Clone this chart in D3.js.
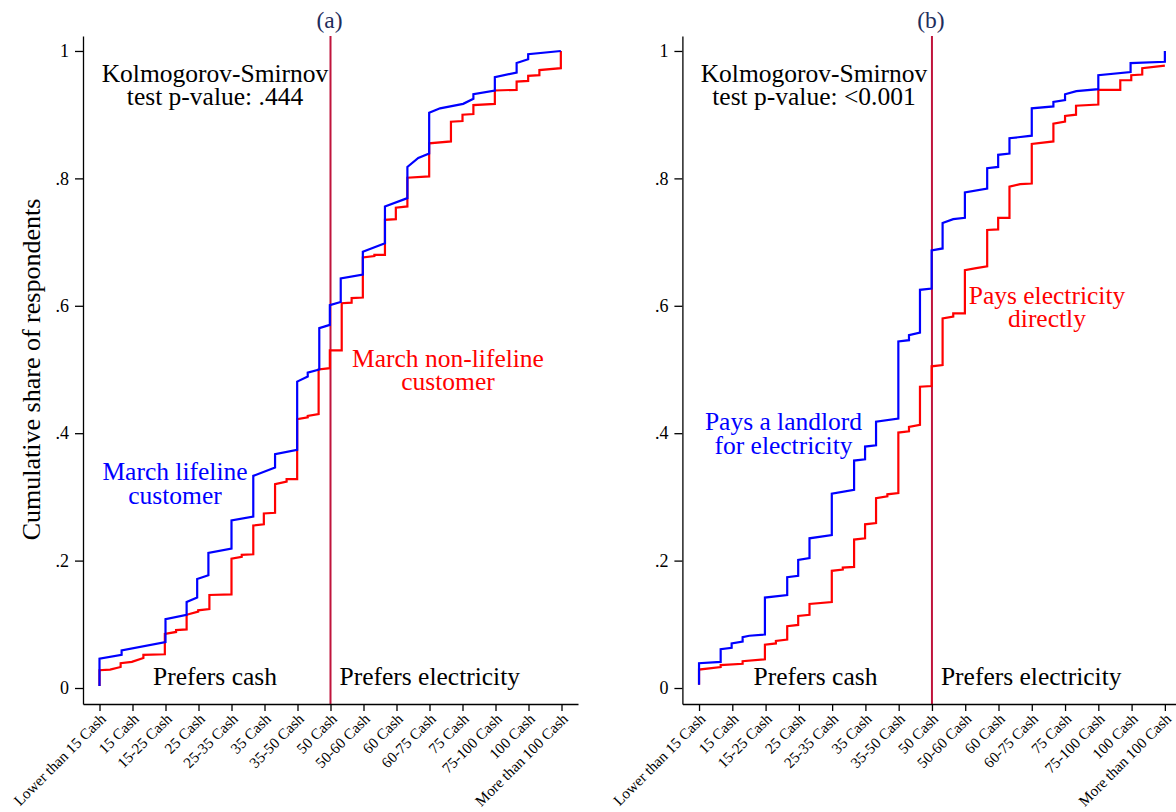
<!DOCTYPE html>
<html>
<head>
<meta charset="utf-8">
<script src="https://cdn.jsdelivr.net/npm/d3@7"></script>
<style>
  body { margin: 0; background: #fff; }
  svg { font-family: "Liberation Serif", "Times New Roman", serif; }
</style>
</head>
<body>
<svg id="chart" width="1176" height="812"></svg>
<script>
// category labels on the x axis (positions 1..15)
const categories = ['Lower than 15 Cash', '15 Cash', '15-25 Cash', '25 Cash', '25-35 Cash', '35 Cash',
  '35-50 Cash', '50 Cash', '50-60 Cash', '60 Cash', '60-75 Cash', '75 Cash', '75-100 Cash',
  '100 Cash', 'More than 100 Cash']
const yTicks = [0, 0.2, 0.4, 0.6, 0.8, 1]

// panel (a): lifeline (blue) vs non-lifeline (red)
const lifelineX = [1, 1, 1.67, 1.67, 3.0, 3.0, 3.64, 3.64, 3.96, 3.96, 4.3, 4.3, 5.0, 5.0, 5.66, 5.66,
  6.32, 6.32, 6.99, 6.99, 7.31, 7.31, 7.66, 7.66, 7.98, 7.98, 8.31, 8.31, 8.98, 8.98, 9.65, 9.65,
  10.33, 10.33, 10.66, 10.99, 10.99, 11.32, 12.02, 12.33, 12.33, 12.98, 12.98, 13.64, 13.64, 13.99, 13.99, 14.98]
const lifelineY = [0.003, 0.046, 0.052, 0.059, 0.072, 0.108, 0.115, 0.135, 0.142, 0.171, 0.177, 0.212, 0.219, 0.263, 0.269, 0.333,
  0.346, 0.367, 0.374, 0.481, 0.489, 0.495, 0.5, 0.565, 0.57, 0.601, 0.606, 0.643, 0.649, 0.685, 0.698, 0.756,
  0.769, 0.818, 0.832, 0.839, 0.903, 0.91, 0.917, 0.925, 0.932, 0.938, 0.959, 0.966, 0.981, 0.987, 0.995, 1.0]
const nonLifelineX = [1, 1, 1.32, 1.64, 1.64, 1.98, 2.33, 2.33, 2.98, 2.98, 3.32, 3.32, 3.64, 3.64, 3.99, 3.99,
  4.33, 4.33, 5.0, 5.0, 5.31, 5.31, 5.66, 5.66, 5.98, 5.98, 6.32, 6.32, 6.67, 6.67, 6.99, 6.99,
  7.31, 7.31, 7.64, 7.64, 7.98, 7.98, 8.34, 8.34, 8.64, 8.64, 8.98, 8.98, 9.33, 9.33, 9.65, 9.65,
  9.98, 9.98, 10.33, 10.33, 10.99, 10.99, 11.65, 11.65, 12.0, 12.0, 12.33, 12.33, 12.98, 12.98,
  13.64, 13.64, 13.99, 13.99, 14.33, 14.33, 14.98, 14.98]
const nonLifelineY = [0.003, 0.028, 0.029, 0.033, 0.039, 0.041, 0.047, 0.052, 0.053, 0.085, 0.088, 0.091, 0.092, 0.115, 0.12, 0.122,
  0.124, 0.146, 0.147, 0.203, 0.206, 0.209, 0.21, 0.255, 0.257, 0.274, 0.275, 0.32, 0.324, 0.328, 0.328, 0.422,
  0.425, 0.427, 0.43, 0.5, 0.502, 0.53, 0.53, 0.604, 0.605, 0.612, 0.613, 0.676, 0.678, 0.68, 0.68, 0.735,
  0.736, 0.754, 0.756, 0.801, 0.803, 0.855, 0.858, 0.889, 0.89, 0.9, 0.901, 0.915, 0.917, 0.938,
  0.939, 0.952, 0.953, 0.961, 0.962, 0.97, 0.973, 1.0]

// panel (b): pays a landlord (blue) vs pays directly (red)
const landlordX = [1, 1, 1.65, 1.65, 1.98, 1.98, 2.31, 2.31, 2.51, 2.98, 2.98, 3.65, 3.65, 3.98, 3.98, 4.32, 4.32,
  4.99, 4.99, 5.66, 5.66, 5.99, 5.99, 6.32, 6.32, 6.99, 6.99, 7.31, 7.31, 7.64, 7.64, 7.99, 7.99,
  8.32, 8.32, 8.64, 8.99, 8.99, 9.66, 9.66, 9.99, 9.99, 10.33, 10.33, 11.0, 11.0, 11.65, 11.65,
  12.0, 12.0, 12.34, 13.0, 13.0, 13.97, 13.97, 15.0, 15.0]
const landlordY = [0.005, 0.039, 0.041, 0.061, 0.063, 0.07, 0.073, 0.08, 0.082, 0.084, 0.142, 0.146, 0.174, 0.176, 0.201, 0.204, 0.235,
  0.24, 0.305, 0.311, 0.357, 0.359, 0.379, 0.381, 0.418, 0.423, 0.544, 0.546, 0.554, 0.558, 0.625, 0.627, 0.687,
  0.69, 0.73, 0.736, 0.738, 0.778, 0.784, 0.816, 0.818, 0.837, 0.839, 0.863, 0.867, 0.91, 0.913, 0.92,
  0.923, 0.932, 0.937, 0.94, 0.962, 0.967, 0.981, 0.983, 1.0]
const directX = [1, 1, 1.65, 1.65, 2.31, 2.31, 2.98, 2.98, 3.31, 3.31, 3.65, 3.65, 3.98, 3.98, 4.32, 4.32,
  4.99, 4.99, 5.32, 5.32, 5.66, 5.66, 5.99, 5.99, 6.32, 6.32, 6.66, 6.66, 6.99, 6.99, 7.31, 7.31,
  7.64, 7.64, 7.99, 7.99, 8.32, 8.32, 8.64, 8.64, 8.99, 8.99, 9.33, 9.66, 9.66, 9.99, 9.99, 10.33, 10.33,
  10.65, 11.0, 11.0, 11.65, 11.65, 12.0, 12.0, 12.33, 12.33, 13.0, 13.0, 13.66, 13.66, 13.99, 13.99,
  14.32, 14.32, 15.0]
const directY = [0.005, 0.029, 0.033, 0.036, 0.038, 0.042, 0.045, 0.068, 0.07, 0.074, 0.076, 0.097, 0.099, 0.113, 0.115, 0.132,
  0.135, 0.184, 0.186, 0.189, 0.19, 0.233, 0.235, 0.257, 0.259, 0.298, 0.301, 0.304, 0.306, 0.401, 0.403, 0.41,
  0.413, 0.473, 0.474, 0.505, 0.507, 0.58, 0.583, 0.588, 0.588, 0.656, 0.659, 0.662, 0.719, 0.72, 0.738, 0.738, 0.787,
  0.791, 0.792, 0.854, 0.858, 0.886, 0.889, 0.898, 0.9, 0.914, 0.916, 0.939, 0.939, 0.954, 0.954, 0.962,
  0.963, 0.973, 0.977]

const panels = [
  { title: '(a)', left: 83, right: 578, blueX: lifelineX, blueY: lifelineY, redX: nonLifelineX, redY: nonLifelineY,
    ks: ['Kolmogorov-Smirnov', 'test p-value: .444'], ksX: 215,
    blueLab: ['March lifeline', 'customer'], blueLabPos: [175, 480],
    redLab: ['March non-lifeline', 'customer'], redLabPos: [448, 366.5], ylabel: true },
  { title: '(b)', left: 682.4, right: 1181.5, blueX: landlordX, blueY: landlordY, redX: directX, redY: directY,
    ks: ['Kolmogorov-Smirnov', 'test p-value: <0.001'], ksX: 814,
    blueLab: ['Pays a landlord', 'for electricity'], blueLabPos: [783.5, 430],
    redLab: ['Pays electricity', 'directly'], redLabPos: [1047, 303.5], ylabel: false }
]

const svg = d3.select('#chart')

// shared y scale, axis runs a bit beyond 0 and 1
const y = d3.scaleLinear().domain([-0.0251, 1.0235]).range([704, 36])

for (let p of panels) {
  let x = d3.scaleLinear().domain([0.5, 15.5]).range([p.left, p.right])
  let g = svg.append('g')

  // reference line at "50 Cash"
  g.append('line')
    .attr('x1', x(8)).attr('x2', x(8))
    .attr('y1', y.range()[1]).attr('y2', y.range()[0])
    .attr('stroke', '#c0143c').attr('stroke-width', 2)

  // y axis
  let yAxis = g.append('g')
    .attr('transform', `translate(${p.left},0)`)
    .call(d3.axisLeft(y).tickValues(yTicks).tickSize(8).tickSizeOuter(0).tickPadding(6)
      .tickFormat(d => d === 0 ? '0' : d === 1 ? '1' : d3.format('.1f')(d).replace('0.', '.')))
  yAxis.selectAll('text').attr('font-size', 18).attr('font-family', '"Liberation Serif", serif').attr('fill', '#000')

  // x axis
  let xAxis = g.append('g')
    .attr('transform', `translate(0,${y.range()[0]})`)
    .call(d3.axisBottom(x).tickValues(d3.range(1, 16)).tickSize(7).tickSizeOuter(0)
      .tickFormat(d => categories[d - 1]))
  xAxis.selectAll('text')
    .attr('font-size', 15.2).attr('font-family', '"Liberation Serif", serif').attr('fill', '#000')
    .attr('text-anchor', 'end').attr('x', 0).attr('y', 0).attr('dy', '0.35em')
    .attr('transform', 'translate(3,12) rotate(-45)')
  svg.selectAll('.domain, .tick line').attr('stroke', '#000').attr('stroke-width', 1.3)

  // step lines
  let line = d3.line().x(d => x(d[0])).y(d => y(d[1]))
  g.append('path')
    .attr('d', line(d3.zip(p.redX, p.redY)))
    .attr('fill', 'none').attr('stroke', '#ff0000').attr('stroke-width', 2.2)
  g.append('path')
    .attr('d', line(d3.zip(p.blueX, p.blueY)))
    .attr('fill', 'none').attr('stroke', '#0000ff').attr('stroke-width', 2.2)

  // texts
  let txt = (lines, cx, by, color, anchor) => {
    lines.forEach((t, i) => {
      g.append('text').attr('x', cx).attr('y', by + i * 23.5)
        .attr('text-anchor', anchor || 'middle').attr('font-size', 25.5).attr('fill', color).text(t)
    })
  }
  txt(p.ks, p.ksX, 81.5, '#000')
  txt(p.blueLab, p.blueLabPos[0], p.blueLabPos[1], '#0000ff')
  txt(p.redLab, p.redLabPos[0], p.redLabPos[1], '#ff0000')
  txt(['Prefers cash'], (x(1) + x(8)) / 2, 684.5, '#000')
  txt(['Prefers electricity'], x(8) + 9, 684.5, '#000', 'start')

  g.append('text').attr('x', x(8) - 1).attr('y', 27.5).attr('text-anchor', 'middle')
    .attr('font-size', 23.5).attr('fill', '#1e2d5c').text(p.title)

  if (p.ylabel) {
    g.append('text').attr('transform', `translate(40,${y(0.5)}) rotate(-90)`)
      .attr('text-anchor', 'middle').attr('font-size', 26).attr('fill', '#000')
      .text('Cumulative share of respondents')
  }
}
</script>
</body>
</html>
